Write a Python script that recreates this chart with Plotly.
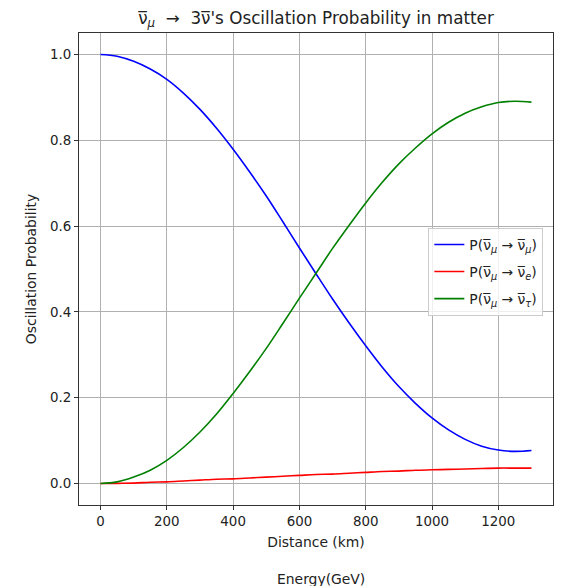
import plotly.graph_objects as go

distance_km = [0, 50, 100, 150, 200, 250, 300, 350, 400, 450, 500, 550, 600, 650,
               700, 750, 800, 850, 900, 950, 1000, 1050, 1100, 1150, 1200, 1250, 1300]

p_mu_mu = [1.000, 0.996, 0.984, 0.966, 0.942, 0.910, 0.872, 0.828, 0.779, 0.726,
           0.670, 0.610, 0.549, 0.489, 0.430, 0.374, 0.321, 0.271, 0.226, 0.187,
           0.153, 0.125, 0.103, 0.087, 0.078, 0.075, 0.077]

p_mu_e = [0.000, 0.0005, 0.001, 0.003, 0.004, 0.006, 0.008, 0.010, 0.011, 0.013,
          0.015, 0.017, 0.019, 0.021, 0.022, 0.024, 0.026, 0.028, 0.029, 0.031,
          0.032, 0.033, 0.034, 0.035, 0.036, 0.036, 0.036]

p_mu_tau = [0.000, 0.0038, 0.015, 0.031, 0.054, 0.084, 0.120, 0.162, 0.210, 0.261,
            0.315, 0.373, 0.432, 0.490, 0.548, 0.602, 0.654, 0.702, 0.745, 0.782,
            0.815, 0.842, 0.863, 0.878, 0.888, 0.891, 0.889]

x_ticks = [0, 200, 400, 600, 800, 1000, 1200]
y_ticks = [0.0, 0.2, 0.4, 0.6, 0.8, 1.0]

NU = "ν\u0305"
names = [
    f"P({NU}<sub><i>μ</i></sub> → {NU}<sub><i>μ</i></sub>)",
    f"P({NU}<sub><i>μ</i></sub> → {NU}<sub><i>e</i></sub>)",
    f"P({NU}<sub><i>μ</i></sub> → {NU}<sub><i>τ</i></sub>)",
]
colors = ["#0000ff", "#ff0000", "#008000"]
series = [p_mu_mu, p_mu_e, p_mu_tau]

FONT = "DejaVu Sans"
FS = 13.9

fig = go.Figure()
for i, (name, ys, c) in enumerate(zip(names, series, colors)):
    fig.add_trace(go.Scatter(x=distance_km, y=ys, mode="lines", name=name,
                             legendgroup=f"g{i}",
                             line=dict(color=c, width=1.6, shape="spline", smoothing=1.0)))

axis_common = dict(showline=True, mirror=True, linecolor="#333333", linewidth=1,
                   showgrid=True, gridcolor="#b0b0b0", gridwidth=0.8,
                   ticks="outside", ticklen=4, tickcolor="#333333", tickwidth=1,
                   zeroline=False, tickfont=dict(family=FONT, size=FS - 0.5, color="#222"))

fig.update_layout(
    width=562, height=586,
    margin=dict(l=79, r=9, t=33, b=81),
    paper_bgcolor="white", plot_bgcolor="white",
    font=dict(family=FONT, color="#222"),
    title=dict(text=f"{NU}<sub><i>μ</i></sub>  →  3{NU}'s Oscillation Probability in matter",
               x=(79 + 553) / 2 / 562, xanchor="center", y=1 - 18 / 586, yanchor="middle",
               font=dict(family=FONT, size=16.8, color="#222")),
    xaxis=dict(range=[-65, 1365], tickvals=x_ticks,
               title=dict(text="Distance (km)", font=dict(family=FONT, size=FS, color="#222"), standoff=9),
               **axis_common),
    yaxis=dict(range=[-0.05, 1.05], tickvals=y_ticks, tickformat=".1f",
               title=dict(text="Oscillation Probability", font=dict(family=FONT, size=FS, color="#222"), standoff=10),
               **axis_common),
    legend=dict(x=0.737, y=0.587, xanchor="left", yanchor="top",
                bgcolor="rgba(255,255,255,0.8)", bordercolor="#cccccc", borderwidth=1,
                font=dict(family=FONT, size=FS, color="#222"), tracegroupgap=6,
                traceorder="grouped", itemwidth=30),
    showlegend=True,
)

fig.add_annotation(text="Energy(GeV)", xref="paper", yref="paper",
                   x=0.51, y=-(579 - 505) / 472, xanchor="center", yanchor="middle",
                   showarrow=False, font=dict(family=FONT, size=FS, color="#222"))

fig.write_html("out.html")
